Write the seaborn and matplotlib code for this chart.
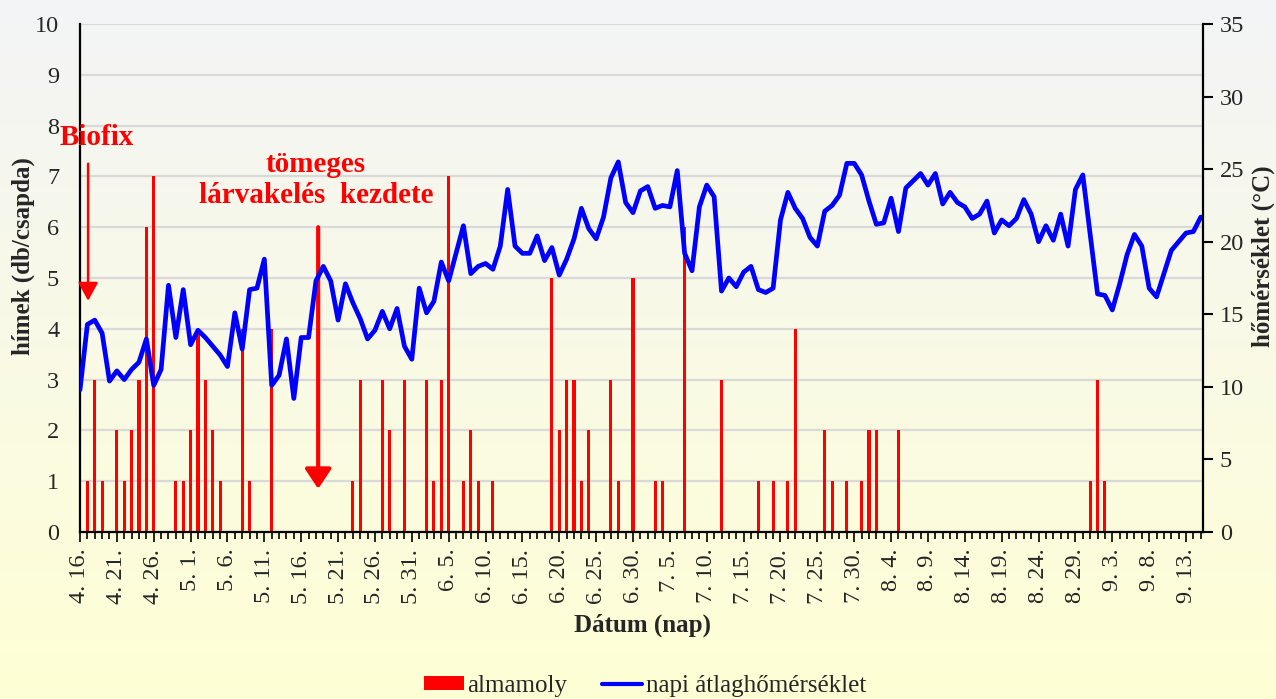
import numpy as np
import pandas as pd
import matplotlib
matplotlib.use("Agg")
import matplotlib.pyplot as plt
from matplotlib.patches import Patch
from matplotlib.lines import Line2D
from matplotlib.ticker import MultipleLocator
import seaborn as sns

# napok: 4.16. - 9.15.
napok = pd.date_range("2023-04-16", "2023-09-15", freq="D")

# almamoly fogás (hím/csapda), naponként
almamoly = [
    0, 1, 3, 1, 0, 2, 1, 2, 3, 6,
    7, 0, 0, 1, 1, 2, 4, 3, 2, 1,
    0, 0, 4, 1, 0, 0, 4, 0, 0, 0,
    0, 0, 0, 0, 0, 0, 0, 1, 3, 0,
    0, 3, 2, 0, 3, 0, 0, 3, 1, 3,
    7, 0, 1, 2, 1, 0, 1, 0, 0, 0,
    0, 0, 0, 0, 5, 2, 3, 3, 1, 2,
    0, 0, 3, 1, 0, 5, 0, 0, 1, 1,
    0, 0, 6, 0, 0, 0, 0, 3, 0, 0,
    0, 0, 1, 0, 1, 0, 1, 4, 0, 0,
    0, 2, 1, 0, 1, 0, 1, 2, 2, 0,
    0, 2, 0, 0, 0, 0, 0, 0, 0, 0,
    0, 0, 0, 0, 0, 0, 0, 0, 0, 0,
    0, 0, 0, 0, 0, 0, 0, 1, 3, 1,
    0, 0, 0, 0, 0, 0, 0, 0, 0, 0,
    0, 0, 0,
]

# napi átlaghőmérséklet (°C)
homerseklet = [
    9.8, 14.3, 14.6, 13.7, 10.4, 11.1, 10.5, 11.2, 11.7, 13.3,
    10.1, 11.2, 17.0, 13.4, 16.7, 12.9, 13.9, 13.4, 12.8, 12.2,
    11.4, 15.1, 12.6, 16.7, 16.8, 18.8, 10.1, 10.8, 13.3, 9.2,
    13.4, 13.4, 17.3, 18.3, 17.3, 14.6, 17.1, 15.8, 14.7, 13.3,
    13.9, 15.2, 14.0, 15.4, 12.8, 11.9, 16.8, 15.1, 15.9, 18.6,
    17.3, 19.2, 21.1, 17.8, 18.3, 18.5, 18.1, 19.7, 23.6, 19.7,
    19.2, 19.2, 20.4, 18.7, 19.6, 17.7, 18.8, 20.2, 22.3, 20.9,
    20.2, 21.7, 24.4, 25.5, 22.7, 22.0, 23.5, 23.8, 22.3, 22.5,
    22.4, 24.9, 19.2, 18.0, 22.4, 23.9, 23.1, 16.6, 17.5, 16.9,
    17.9, 18.3, 16.7, 16.5, 16.8, 21.5, 23.4, 22.3, 21.6, 20.3,
    19.7, 22.1, 22.5, 23.2, 25.4, 25.4, 24.6, 22.8, 21.2, 21.3,
    23.0, 20.7, 23.7, 24.2, 24.7, 23.9, 24.7, 22.6, 23.4, 22.7,
    22.4, 21.6, 21.9, 22.8, 20.6, 21.5, 21.1, 21.6, 22.9, 21.9,
    20.0, 21.1, 20.1, 21.9, 19.7, 23.6, 24.6, 20.5, 16.4, 16.3,
    15.3, 17.1, 19.1, 20.5, 19.7, 16.8, 16.2, 17.8, 19.4, 20.0,
    20.6, 20.7, 21.7,
]

tick_labels = [
    "4. 16.", "4. 21.", "4. 26.", "5. 1.", "5. 6.", "5. 11.", "5. 16.",
    "5. 21.", "5. 26.", "5. 31.", "6. 5.", "6. 10.", "6. 15.", "6. 20.",
    "6. 25.", "6. 30.", "7. 5.", "7. 10.", "7. 15.", "7. 20.", "7. 25.",
    "7. 30.", "8. 4.", "8. 9.", "8. 14.", "8. 19.", "8. 24.", "8. 29.",
    "9. 3.", "9. 8.", "9. 13.",
]

df = pd.DataFrame({
    "nap": np.arange(len(napok)),
    "almamoly": almamoly,
    "homerseklet": homerseklet,
})

sns.set_theme(style="white")
plt.rcParams["font.family"] = ["Liberation Serif", "DejaVu Serif"]

W, H = 1276, 699
fig = plt.figure(figsize=(W / 100, H / 100), dpi=100)

# háttér színátmenet (szürkés fent, halványsárga lent)
bg = fig.add_axes([0, 0, 1, 1], zorder=-10)
top_c = np.array([0.953, 0.957, 0.965])
bot_c = np.array([1.0, 1.0, 0.835])
t = np.linspace(0, 1, 256)[:, None]
grad = top_c + (bot_c - top_c) * t
bg.imshow(grad[:, None, :], aspect="auto", extent=[0, 1, 0, 1])
bg.axis("off")

left, right, top, bottom = 80, 1203, 24, 532
ax = fig.add_axes([left / W, 1 - bottom / H, (right - left) / W, (bottom - top) / H])
ax.set_facecolor("none")

sns.barplot(data=df, x="nap", y="almamoly", native_scale=True, width=0.42,
            color="#ff0000", saturation=1, errorbar=None, linewidth=0, ax=ax)

ax2 = ax.twinx()
sns.lineplot(data=df, x="nap", y="homerseklet", color="#0000ff", lw=3.4, ax=ax2)

ax.set_xlim(0, 152.3)
ax.set_ylim(0, 10)
ax2.set_ylim(0, 35)

ax.set_yticks(range(0, 11))
ax2.set_yticks(range(0, 36, 5))
ax.set_xticks(np.arange(0, 151, 5))
ax.set_xticklabels(tick_labels, rotation=90, fontsize=17.5)
ax.xaxis.set_minor_locator(MultipleLocator(1))

ax.tick_params(axis="x", which="major", length=7, width=1.2, color="black",
               direction="out", pad=5, bottom=True)
ax.tick_params(axis="x", which="minor", length=5, width=1.2, color="black",
               direction="out", bottom=True)
ax.tick_params(axis="y", length=0, labelsize=17.5, pad=15)
ax2.tick_params(axis="y", length=7, width=1.5, color="black", direction="out",
                labelsize=17.5, pad=5, right=True)

ax.grid(axis="y", color="#d9d9d9", lw=1.6)
ax.grid(axis="x", visible=False)
ax2.grid(False)
ax.set_axisbelow(True)

for a in (ax, ax2):
    a.spines["top"].set_visible(False)
    for s in ("left", "right", "bottom"):
        a.spines[s].set_color("black")
        a.spines[s].set_linewidth(1.6)
ax.spines["right"].set_visible(False)
ax2.spines["left"].set_visible(False)
ax2.spines["bottom"].set_visible(False)

ax.set_xlabel("Dátum (nap)", fontsize=18, fontweight="bold")
ax.xaxis.set_label_coords((642 - left) / (right - left), (bottom - 614) / (bottom - top))
ax.set_ylabel("hímek (db/csapda)", fontsize=18, fontweight="bold")
ax.yaxis.set_label_coords((35 - left) / (right - left), 0.543)
ax2.set_ylabel("hőmérséklet (°C)", fontsize=18, fontweight="bold")
ax2.yaxis.set_label_coords((1252 - left) / (right - left), 0.543)

# feliratok nyilakkal
ax.text(2.2, 7.76, "Biofix", color="#ff0000", fontsize=21, fontweight="bold",
        ha="center", va="center")
ax.annotate("", xy=(1.1, 4.55), xytext=(1.1, 7.25),
            arrowprops=dict(arrowstyle="-|>,head_length=0.55,head_width=0.3",
                            color="#ff0000", lw=1.8, mutation_scale=20,
                            shrinkA=0, shrinkB=0))
ax.text(32.0, 6.93, "tömeges\nlárvakelés  kezdete", color="#ff0000", fontsize=21,
        fontweight="bold", ha="center", va="center", multialignment="center",
        linespacing=1.15)
ax.annotate("", xy=(32.3, 0.85), xytext=(32.3, 6.0),
            arrowprops=dict(arrowstyle="-|>,head_length=0.6,head_width=0.4",
                            color="#ff0000", lw=3, mutation_scale=20,
                            shrinkA=0, shrinkB=0))

handles = [Patch(facecolor="#ff0000", edgecolor="none"),
           Line2D([], [], color="#0000ff", lw=3)]
fig.legend(handles, ["almamoly", "napi átlaghőmérséklet"], loc="center",
           bbox_to_anchor=(645 / W, 1 - 686 / H), ncol=2, frameon=False,
           fontsize=18, handlelength=1.6, handleheight=0.5, handletextpad=0.15,
           columnspacing=1.4)

fig.savefig("out.png", dpi=100)
